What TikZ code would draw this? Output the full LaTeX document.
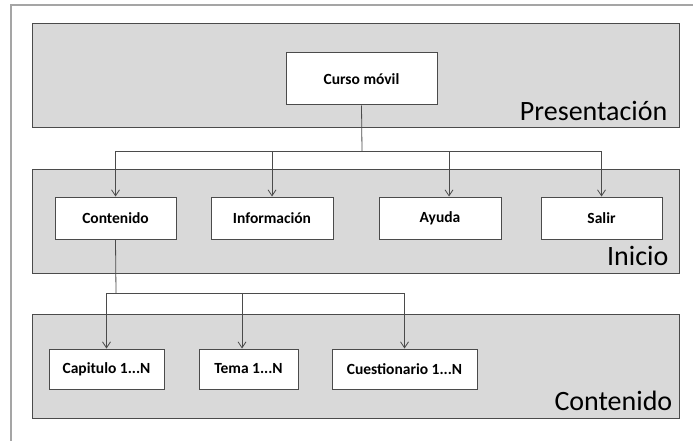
\documentclass[tikz,border=0pt]{standalone}
\usepackage{fontspec}
\setmainfont{Carlito}
\usetikzlibrary{arrows.meta}
\usetikzlibrary{positioning}
\definecolor{bandgray}{RGB}{217,217,217}
\definecolor{framegray}{RGB}{165,165,165}
\definecolor{edgegray}{RGB}{75,75,75}
\tikzset{
    band/.style = {draw=edgegray,fill=bandgray,line width=1pt,inner sep=0,minimum width=647pt,minimum height=104pt},
    bandtitle/.style = {font=\fontsize{28}{32}\selectfont,anchor=south east,inner sep=0},
    item/.style = {draw=edgegray,fill=white,line width=1pt,inner sep=0,minimum height=42pt,font=\fontsize{15.5}{18}\selectfont\bfseries},
    pageframe/.style = {draw=framegray,line width=2pt}
}
\tikzset{
    bus/.style = {draw=edgegray,line width=0.8pt},
    down/.style = {bus,-{Straight Barb[length=6pt,width=8pt]}}
}

\begin{document}
\begin{tikzpicture}[x=1pt,y=-1pt]
        \useasboundingbox (0,0) rectangle (693,441);
        % Page frame
        \path (11,441) coordinate (fbl)
            (11,5) coordinate (ftl)
            (693,5) coordinate (ftr)
        ;
        \draw[pageframe] (fbl) -- (ftl) -- (ftr);
        % Bands
        \path (355.5,76) node[band] (pres) {}
            (355.5,221) node[band] (ini) {}
            (355.5,366) node[band] (cont) {}
        ;
        \foreach \b/\txt/\dx in {pres/Presentación/-12,ini/Inicio/-11,cont/Contenido/-7}
            \node[bandtitle] at ([shift={(\dx,-8)}]\b.south east) {\txt};
        % Boxes
        \node[item,minimum width=151pt,minimum height=52pt] (curso) at (361.5,79) {Curso móvil};
        \path (115.5,218) node[item,minimum width=121pt] (contenido) {Contenido}
            (272,218) node[item,minimum width=122pt] (informacion) {Información}
            (440,218) node[item,minimum width=122pt] (ayuda) {Ayuda}
            (601.5,218) node[item,minimum width=121pt] (salir) {Salir}
        ;
        \path (106.5,369) node[item,minimum width=115pt,minimum height=40pt] (capitulo) {Capitulo 1...N}
            (248.5,369) node[item,minimum width=99pt,minimum height=40pt] (tema) {Tema 1...N}
            (404.5,369) node[item,minimum width=145pt,minimum height=40pt] (cuestionario) {Cuestionario 1...N}
        ;
        % Bus ends
        \path (362,151) coordinate (bus1)
            (116,293) coordinate (bus2)
            ([xshift=9pt]ayuda.north) coordinate (ayin)
            ([xshift=-6.5pt]tema.north) coordinate (temain)
        ;
        % First level
        \draw[bus] (curso.south) -- (bus1);
        \draw[bus] (contenido.north |- bus1) -- (salir.north |- bus1);
        \foreach \dest in {contenido.north,informacion.north,ayin,salir.north}
            \draw[down] (\dest |- bus1) -- (\dest);
        % Second level
        \draw[bus] (contenido.south) -- (bus2);
        \draw[bus] (capitulo.north |- bus2) -- (cuestionario.north |- bus2);
        \foreach \dest in {capitulo.north,temain,cuestionario.north}
            \draw[down] (\dest |- bus2) -- (\dest);
\end{tikzpicture}
\end{document}
